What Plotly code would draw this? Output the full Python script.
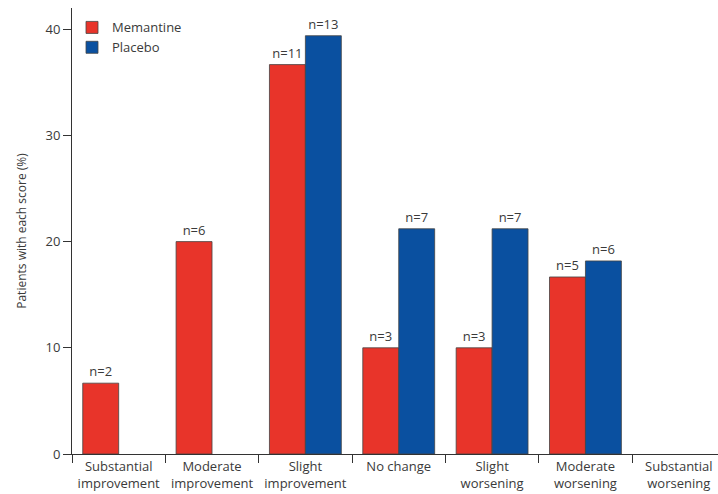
import plotly.graph_objects as go

categories = ["Substantial<br>improvement", "Moderate<br>improvement", "Slight<br>improvement",
              "No change", "Slight<br>worsening", "Moderate<br>worsening", "Substantial<br>worsening"]
memantine = [6.67, 20.0, 36.67, 10.0, 10.0, 16.67, None]
placebo = [None, None, 39.39, 21.21, 21.21, 18.18, None]
memantine_n = ["n=2", "n=6", "n=11", "n=3", "n=3", "n=5", ""]
placebo_n = ["", "", "n=13", "n=7", "n=7", "n=6", ""]
y_ticks = [0, 10, 20, 30, 40]

RED = "#E8342A"
BLUE = "#0A50A0"
FONT = "Open Sans"
TXT = "#3a3a3a"

fig = go.Figure()
fig.add_trace(go.Bar(name="Memantine", x=categories, y=memantine, text=memantine_n,
                     textposition="outside", cliponaxis=False,
                     marker=dict(color=RED, line=dict(color="#444", width=0.8)),
                     textfont=dict(size=13, color=TXT, family=FONT)))
fig.add_trace(go.Bar(name="Placebo", x=categories, y=placebo, text=placebo_n,
                     textposition="outside", cliponaxis=False,
                     marker=dict(color=BLUE, line=dict(color="#444", width=0.8)),
                     textfont=dict(size=13, color=TXT, family=FONT)))

fig.update_layout(
    width=718, height=494,
    margin=dict(l=72, r=0, t=8, b=40, autoexpand=False),
    paper_bgcolor="white", plot_bgcolor="white",
    barmode="group", bargap=0.23, bargroupgap=0,
    font=dict(family=FONT, size=13, color=TXT),
    legend=dict(x=0.0, y=0.99, xanchor="left", yanchor="top",
                bgcolor="rgba(0,0,0,0)", font=dict(size=13, color=TXT),
                tracegroupgap=0),
    xaxis=dict(range=[-0.5, 6.42], showline=True, linecolor="#333", linewidth=1,
               tickson="boundaries", ticks="outside", ticklen=8, tickcolor="#333",
               tickfont=dict(size=13, color=TXT), showgrid=False, automargin=False),
    yaxis=dict(range=[0, 42], showline=True, linecolor="#333", linewidth=1,
               tickvals=y_ticks, ticks="outside", ticklen=8, tickcolor="#333",
               tickfont=dict(size=13, color=TXT), showgrid=False, zeroline=False,
               automargin=False,
               title=dict(text="Patients with each score (%)", font=dict(size=12, color=TXT),
                          standoff=16)),
)

fig.write_html("out.html", config={"displayModeBar": False},
               post_script="document.body.style.margin='0';document.body.style.overflow='hidden';")
